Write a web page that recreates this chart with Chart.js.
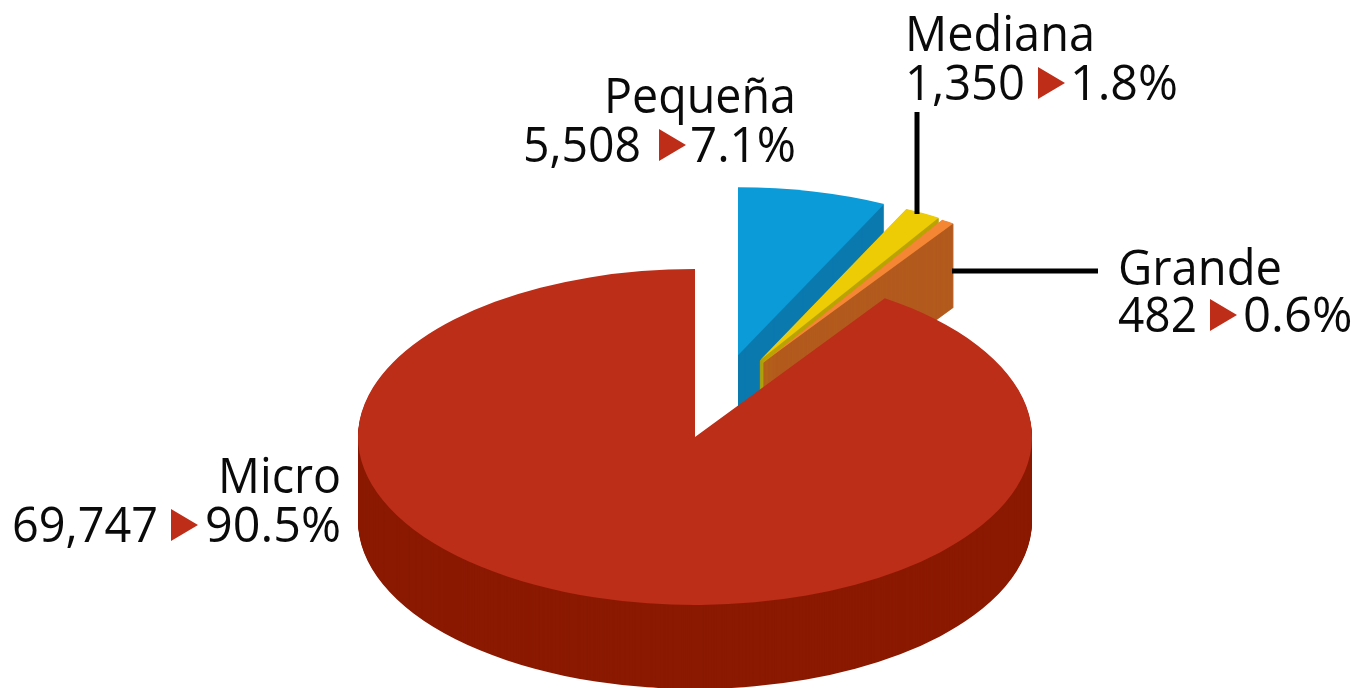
<!DOCTYPE html>
<html lang="es">
<head>
<meta charset="utf-8">
<title>Empresas por tamaño</title>
<script src="https://cdn.jsdelivr.net/npm/chart.js@4"></script>
<style>
html,body{margin:0;padding:0;background:#fff;overflow:hidden}
canvas{display:block}
</style>
</head>
<body>
<canvas id="c" width="1360" height="688"></canvas>
<script>
const categories = ['Pequeña', 'Mediana', 'Grande', 'Micro'];
const values = [5508, 1350, 482, 69747];
const valueLabels = ['5,508', '1,350', '482', '69,747'];
const percentLabels = ['7.1%', '1.8%', '0.6%', '90.5%'];

const topColors = ['#0A9BD8', '#EDCB05', '#F58634', '#BC2E18'];
const sideColors = ['#0A79AE', '#B9A400', '#B35A1E', '#8B1902'];
const triangleColor = '#BE2D18';

// Scene set-up: the flat pie is squashed and extruded to read as a 3D disc.
const SCENE = { cx: 695, cy: 437, squash: 168 / 337, depth: 84 };
// Explode shift of each slice, in the un-squashed plane of the pie.
const explode = [[43, -164], [65, -154], [68.5, -150], [0, 0]];
// Thin slices get a hairline on their side layers so the apex stays solid.
const sideStroke = [0, 1, 1, 0];
const FONT = '49px "Open Sans", sans-serif';
const labelLayout = [
  { name: [604, 113, 192], val: [523, 162, 118], tri: [659, 162], pct: [690, 162, 106] },
  { name: [905, 51, 190], val: [905, 100, 120], tri: [1038, 100], pct: [1070, 100, 108] },
  { name: [1118, 285, 164], val: [1118, 332, 79], tri: [1210, 332], pct: [1243, 332, 110] },
  { name: [218, 493, 123], val: [12, 542, 146], tri: [171, 542], pct: [205, 542, 136] }
];
const leaders = [[917, 112, 917, 214], [952, 271, 1098, 271]];

function paintArc(ctx, arc, color, dx, dy, lift, stroke) {
  const saved = arc.options;
  const o = Object.create(saved);
  o.backgroundColor = color;
  o.borderColor = color;
  o.borderWidth = stroke;
  arc.options = o;
  ctx.save();
  ctx.translate(SCENE.cx, SCENE.cy + lift);
  ctx.scale(1, SCENE.squash);
  ctx.translate(dx - arc.x, dy - arc.y);
  arc.draw(ctx);
  ctx.restore();
  arc.options = saved;
}

const pie3d = {
  id: 'pie3d',
  beforeDatasetsDraw(chart) {
    const ctx = chart.ctx;
    chart.getDatasetMeta(0).data.forEach((arc, i) => {
      const [dx, dy] = explode[i];
      for (let d = SCENE.depth; d > 0; d--) paintArc(ctx, arc, sideColors[i], dx, dy, d, sideStroke[i]);
      paintArc(ctx, arc, topColors[i], dx, dy, 0, 0);
    });
    return false;
  },
  afterDraw(chart) {
    const ctx = chart.ctx;
    ctx.save();
    ctx.strokeStyle = '#000';
    ctx.lineWidth = 5;
    leaders.forEach(([a, b, c, d]) => {
      ctx.beginPath(); ctx.moveTo(a, b); ctx.lineTo(c, d); ctx.stroke();
    });
    ctx.font = FONT;
    ctx.textAlign = 'left';
    ctx.textBaseline = 'alphabetic';
    labelLayout.forEach((l, i) => {
      ctx.fillStyle = '#0a0a0a';
      ctx.fillText(categories[i], l.name[0], l.name[1], l.name[2]);
      ctx.fillText(valueLabels[i], l.val[0], l.val[1], l.val[2]);
      ctx.fillText(percentLabels[i], l.pct[0], l.pct[1], l.pct[2]);
      const [tx, ty] = l.tri;
      ctx.fillStyle = triangleColor;
      ctx.beginPath();
      ctx.moveTo(tx, ty - 33);
      ctx.lineTo(tx + 27, ty - 17);
      ctx.lineTo(tx, ty - 1);
      ctx.closePath();
      ctx.fill();
    });
    ctx.restore();
  }
};

new Chart(document.getElementById('c'), {
  type: 'pie',
  data: {
    labels: categories,
    datasets: [{ data: values, backgroundColor: topColors, borderWidth: 0 }]
  },
  options: {
    responsive: false,
    maintainAspectRatio: false,
    animation: false,
    devicePixelRatio: 1,
    events: [],
    layout: { padding: { left: 30, right: 0, top: 7, bottom: 7 } },
    plugins: { legend: { display: false }, tooltip: { enabled: false }, title: { display: false } }
  },
  plugins: [pie3d]
});
</script>
</body>
</html>
